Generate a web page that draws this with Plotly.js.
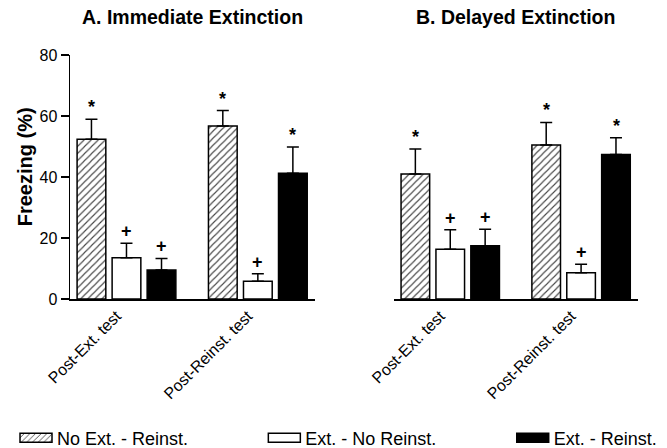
<!DOCTYPE html>
<html>
<head>
<meta charset="utf-8">
<script src="https://cdn.plot.ly/plotly-3.0.1.min.js"></script>
<style>html,body{margin:0;padding:0;background:#fff;}#chart{width:667px;height:448px;}</style>
</head>
<body>
<div id="chart"></div>
<script>
// ---- data ----
var categories = ["Post-Ext. test", "Post-Reinst. test"];
var seriesNames = ["No Ext. - Reinst.", "Ext. - No Reinst.", "Ext. - Reinst."];

// A. Immediate Extinction
var immNoExtReinst = [52.4, 56.7];
var immExtNoReinst = [13.5, 5.8];
var immExtReinst   = [9.5, 41.2];
var immErrNoExtReinst = [6.5, 5.1];
var immErrExtNoReinst = [4.8, 2.5];
var immErrExtReinst   = [3.8, 8.6];
var immMarks = [["*", "*"], ["+", "+"], ["+", "*"]];

// B. Delayed Extinction
var delNoExtReinst = [41.0, 50.5];
var delExtNoReinst = [16.3, 8.6];
var delExtReinst   = [17.5, 47.4];
var delErrNoExtReinst = [8.2, 7.4];
var delErrExtNoReinst = [6.4, 2.8];
var delErrExtReinst   = [5.4, 5.5];
var delMarks = [["*", "*"], ["+", "+"], ["+", "*"]];

var yTicks = [0, 20, 40, 60, 80];
var panelTitles = ["A. Immediate Extinction", "B. Delayed Extinction"];
var yTitle = "Freezing (%)";

// ---- styles ----
var FONT = '"Liberation Sans", Arial, Helvetica, sans-serif';
var markerStyles = [
  {color: '#ffffff', line: {color: '#000', width: 1.5}, pattern: {shape: '/', fgcolor: '#444', bgcolor: '#fff', size: 5, solidity: 0.22}},
  {color: '#ffffff', line: {color: '#000', width: 1.5}},
  {color: '#000000', line: {color: '#000', width: 1.5}}
];
var legendIds = ['legend', 'legend2', 'legend3'];
var legendX = [0.0255, 0.3978, 0.7702];

var panels = [
  {vals: [immNoExtReinst, immExtNoReinst, immExtReinst], errs: [immErrNoExtReinst, immErrExtNoReinst, immErrExtReinst], marks: immMarks, xa: 'x'},
  {vals: [delNoExtReinst, delExtNoReinst, delExtReinst], errs: [delErrNoExtReinst, delErrExtNoReinst, delErrExtReinst], marks: delMarks, xa: 'x2'}
];

var traces = [];
var annotations = [];
var shifts = [-35, 0, 35];
panels.forEach(function (p, pi) {
  for (var s = 0; s < 3; s++) {
    traces.push({
      type: 'bar',
      name: seriesNames[s],
      x: categories,
      y: p.vals[s],
      xaxis: p.xa,
      yaxis: 'y',
      marker: markerStyles[s],
      showlegend: pi === 0,
      legend: legendIds[s],
      error_y: {type: 'data', array: p.errs[s], arrayminus: p.vals[s].map(function(){return 0;}), symmetric: false, color: '#000', thickness: 1.5, width: 6},
      hoverinfo: 'skip'
    });
    for (var c = 0; c < categories.length; c++) {
      annotations.push({
        xref: p.xa, yref: 'y', x: c, y: p.vals[s][c] + p.errs[s][c],
        xshift: shifts[s], yshift: 0, yanchor: 'bottom', xanchor: 'center',
        text: p.marks[s][c], showarrow: false,
        font: {family: FONT, size: 18, color: '#000', weight: 'bold'}
      });
    }
  }
});

['x', 'x2'].forEach(function (xa, i) {
  annotations.push({
    xref: xa + ' domain', yref: 'paper', x: 0.5, y: 1.154, xanchor: 'center', yanchor: 'middle',
    text: '<b>' + panelTitles[i] + '</b>', showarrow: false,
    font: {family: FONT, size: 19.5, color: '#000'}
  });
});

// y-axis title (placed slightly above the axis centre, as in the reference)
annotations.push({
  xref: 'paper', yref: 'paper', x: -0.0792, y: 0.54, xanchor: 'center', yanchor: 'middle',
  textangle: -90, text: '<b>' + yTitle + '</b>', showarrow: false,
  font: {family: FONT, size: 20, color: '#000'}
});

var xaxisCommon = {
  type: 'category', range: [-0.43, 1.435], showline: true, linecolor: '#000', linewidth: 1.5,
  ticks: '', tickangle: -45, tickfont: {family: FONT, size: 16, color: '#000'}, ticklabelshift: -10,
  showgrid: false, zeroline: false, anchor: 'y', fixedrange: true, automargin: false
};

var layout = {
  width: 667, height: 448,
  margin: {l: 70, r: 29, t: 55, b: 149},
  paper_bgcolor: '#fff', plot_bgcolor: '#fff',
  barmode: 'group', bargap: 0.2, bargroupgap: 0.18,
  font: {family: FONT, color: '#000'},
  xaxis: Object.assign({}, xaxisCommon, {domain: [0, 0.4313]}),
  xaxis2: Object.assign({}, xaxisCommon, {domain: [0.5704, 1]}),
  yaxis: {
    range: [0, 80], tickvals: yTicks, ticktext: yTicks.map(String),
    showline: true, linecolor: '#000', linewidth: 1.5, ticks: 'outside', ticklen: 8, tickwidth: 1.5, tickcolor: '#000',
    tickfont: {family: FONT, size: 16, color: '#000'}, showgrid: false, zeroline: false, fixedrange: true, automargin: false
  },
  showlegend: true,
  annotations: annotations
};
legendIds.forEach(function (id, i) {
  layout[id] = {
    orientation: 'h', xref: 'container', yref: 'container',
    x: legendX[i], xanchor: 'left', y: 0.0223, yanchor: 'middle',
    font: {family: FONT, size: 18, color: '#000'}, bgcolor: 'rgba(0,0,0,0)', borderwidth: 0
  };
});

Plotly.newPlot('chart', traces, layout, {staticPlot: true, displayModeBar: false}).then(function (gd) {
  // reshape the legend swatches into the reference's flat rectangles
  gd.querySelectorAll('.legendpoints path').forEach(function (p) {
    p.setAttribute('d', 'M-17,4.5H15V-4.5H-17Z');
  });
});
</script>
</body>
</html>
